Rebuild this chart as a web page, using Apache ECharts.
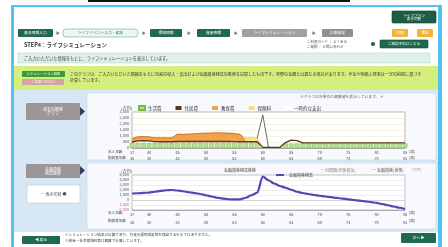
<!DOCTYPE html>
<html><head><meta charset="utf-8">
<script src="https://cdn.jsdelivr.net/npm/echarts@6/dist/echarts.min.js"></script>
<style>html,body{margin:0;padding:0;background:#fff;overflow:hidden}#c{width:448px;height:247px}</style>
</head><body><div id="c"></div>
<script>
// ---- data ----
const ages = [37,38,39,40,41,42,43,44,45,46,47,48,49,50,51,52,53,54,55,56,57,58,59,60,61,62,63,64,65,66,67,68,69,70,71,72,73,74,75,76,77,78,79,80,81,82,83,84,85];
const spouseAges = [35,36,37,38,39,40,41,42,43,44,45,46,47,48,49,50,51,52,53,54,55,56,57,58,59,60,61,62,63,64,65,66,67,68,69,70,71,72,73,74,75,76,77,78,79,80,81,82,83];
const labelAges = [37,40,45,50,55,60,65,70,75,80,85];
const yTicksTop = [0,500,1000,1500,2000,2500,3000];
const yTicksBottom = [-2000,-1000,0,1000,2000,3000,4000,5000];
const seriesNamesTop = ['生活費','住居費','教育費','保険料','一時的な支出'];
const livingCost = [420,420,420,420,420,420,420,420,420,420,420,420,420,420,420,420,420,420,420,420,420,420,420,60,60,60,60,380,380,380,380,380,380,380,380,380,380,380,380,380,380,380,380,380,380,380,380,380,380];
const housingCost = [500,600,620,600,530,520,520,520,540,540,540,540,540,540,540,540,540,540,530,520,520,520,520,60,60,60,60,450,650,620,430,430,430,430,430,430,430,430,430,430,430,430,430,430,430,430,430,430,430];
const educationCost = [300,330,330,330,330,330,330,330,620,600,620,650,680,700,720,730,720,700,680,620,0,null,null,null,null,null,null,null,null,null,null,null,null,null,null,null,null,null,null,null,null,null,null,null,null,null,null,null,null];
const insuranceCost = [null,null,null,null,null,null,null,null,null,null,null,null,null,null,null,null,null,null,null,0,330,330,300,0,null,null,null,null,null,null,null,null,null,null,null,null,null,null,null,null,null,null,null,null,null,null,null,null,null];
const oneTimeCost = [null,null,null,null,null,null,null,null,null,null,null,null,null,null,null,null,null,null,null,null,null,null,0,2690,0,null,null,null,null,null,null,null,null,null,null,null,null,null,null,null,null,null,null,null,null,null,null,null,null];
const assetBalance = [1300,1350,1420,1480,1650,1820,1950,2000,1900,1750,1550,1380,1200,950,700,450,280,150,120,130,450,950,1450,4700,3950,3300,2800,2450,2050,1650,1400,1200,1000,850,700,560,420,280,140,0,-130,-280,-420,-580,-800,-1050,-1300,-1550,-1800];

// ---- page chrome helpers ----
const FF = '"Noto Sans CJK JP", "Noto Sans", sans-serif';
function R(x,y,w,h,fill,stroke,z,r){return {type:'rect',silent:true,z:(z==null?-10:z),shape:{x:x,y:y,width:w,height:h,r:r||0},style:{fill:fill,stroke:stroke||null,lineWidth:stroke?0.6:0}};}
function T(x,y,text,size,color,opt){return {type:'text',silent:true,z:-4,x:x,y:y,style:Object.assign({text:text,fontSize:size,fill:color,fontFamily:FF,verticalAlign:'middle',align:'left'},opt||{})};}
function B(x,y,w,h,fill,text,color,size,stroke,r){return [R(x,y,w,h,fill,stroke,-6,r||1),T(x+w/2,y+h/2,text,size||3.8,color||'#fff',{align:'center'})];}
function tri(x,y,h,c){return {type:'polygon',silent:true,z:-6,shape:{points:[[x,y],[x+5,y+h/2],[x,y+h]]},style:{fill:c}};}

const g = [].concat(
  [R(0,0,448,247,'#ffffff',null,-12)],
  [R(88,0,262,2,'#111111',null,-11)],
  [R(11,5,431,2,'#52c3ee',null,-11), R(11,5,3,242,'#52c3ee',null,-11), R(438,5,4,242,'#52c3ee',null,-11)],
  B(392,11,44,12,'#1d5d45','ライフプラン\n表示切替','#fff',3.6,'#0d3d2a'),
  B(18,29,35,8,'#1f6a4c','基本情報入力'),
  [T(56,33,'▶',4,'#777')],
  B(63,29,75,8,'#eef6f4','ライフイベント入力・編集','#3a7a6a',3.8,'#5ab0a0',3),
  [T(142,33,'▶',4,'#777')],
  B(150,29,32,8,'#1f6a4c','保険情報'),
  [T(187,33,'▶',4,'#777')],
  B(197,29,33,8,'#1f6a4c','資産情報'),
  [T(234,33,'▶',4,'#777')],
  B(242,29,65,8,'#a0a0a0','ライフシミュレーション'),
  [T(312,33,'▶',4,'#777')],
  B(322,29,31,8,'#909090','診断結果'),
  B(392,29,16,8,'#f0b43c','印刷'),
  B(417,29,16,8,'#f0b43c','保存'),
  [T(24,44.5,'STEP4：ライフシミュレーション',5.5,'#333',{fontWeight:'bold'}),
   T(307,42,'ご利用ガイド ｜ よくある',3.5,'#555'), T(307,46.5,'ご質問 ｜ お問い合わせ',3.5,'#555'),
   {type:'circle',silent:true,z:-6,shape:{cx:373,cy:44,r:2},style:{fill:'#1d5d45'}}],
  B(380,40,48,8,'#1f6a4c','ご相談予約はこちら','#fff',3.6,'#0f4a30'),
  [R(18,53,412,10,'#dff0e8','#b9dccb',-8),
   T(24,58,'ご入力いただいた情報をもとに、ライフシミュレーションを表示しています。',4.2,'#444'),
   R(14,66,424,24,'#d5ef7c',null,-9)],
  B(22,71,43,6,'#3a9a3a','シミュレーション結果','#fff',3.4),
  B(22,79,42,6,'#d4a3a3','ご注意ください','#fff',3.4),
  [T(70,74,'このグラフは、ご入力いただいた情報をもとに将来の収入・支出および金融資産残高の推移を試算したものです。実際の金額とは異なる場合があります。年金や物価上昇率は一定の前提に基づき',4.05,'#333'),
   T(70,80,'計算しています。',4.05,'#333'),
   R(14,90,424,142,'#d8e7f6',null,-9),
   R(87,93,349,67,'#f7f9fc','#c9d6e3',-8),
   R(87,163,349,66,'#f7f9fc','#c9d6e3',-8)],
  B(26,103,54,17,'#9c9696','収支の推移\nグラフ','#fff',4),
  [tri(80,107,9,'#3a3a5a')],
  B(26,164,54,14,'#9c9696','金融資産\n残高推移','#fff',4),
  [tri(80,166,9,'#3a3a5a')],
  B(27,185,53,18,'#ffffff','ー 表示切替 ●','#555',4,'#c0c8d0'),
  [T(300,97,'※グラフは年単位の概算値を表示しています。 ✕',3.8,'#666'),
   T(108,152,'本人年齢',3.6,'#444'), T(108,157.5,'配偶者年齢',3.6,'#444'),
   T(409,152,'(歳)',3.6,'#444'), T(409,157.5,'(歳)',3.6,'#444'),
   T(108,213,'本人年齢',3.6,'#444'), T(108,221,'配偶者年齢',3.6,'#444'),
   T(409,213,'(歳)',3.6,'#444'), T(409,221,'(歳)',3.6,'#444'),
   T(224,170,'金融資産残高推移',4,'#444'),
   T(320,170,'ー 目標額(老後資金)',4,'#888'),
   T(372,170,'ー 金融資産(世帯)',4,'#555'),
   T(412,170,'(万円)',3.6,'#999')],
  B(22,236,38,8,'#1f6a4c','◀ 戻る'),
  [T(65,235,'※シミュレーション結果は試算であり、将来の運用成果等を保証するものではありません。',3.6,'#444'),
   T(65,240.5,'※税金・社会保険料等は概算で計算しています。',3.6,'#444')],
  B(401,233,35,10,'#1f6a4c','次へ ▶')
);

function ageLabel(v,i){ return labelAges.indexOf(ages[i])>=0 ? (ages[i]+'\n'+spouseAges[i]) : ''; }
function showIdx(i){ return labelAges.indexOf(ages[i])>=0; }
function fmt(v){ return v.toLocaleString('en-US'); }

const chart = echarts.init(document.getElementById('c'), null, {renderer:'canvas'});
chart.setOption({
  animation:false,
  textStyle:{fontFamily:FF},
  graphic:g,
  grid:[
    {left:132, top:112, width:273, height:36, show:true, backgroundColor:'#ffffff', borderColor:'#8a8a8a', borderWidth:0.6},
    {left:132, top:175, width:273, height:35, show:true, backgroundColor:'#ffffff', borderColor:'#9a9a9a', borderWidth:0.6}
  ],
  legend:[{
    data:seriesNamesTop, left:133, top:100, itemWidth:6, itemHeight:4, itemGap:14, icon:'rect',
    textStyle:{fontSize:4.5, color:'#333', padding:[0,0,0,-2]}
  },{
    data:['金融資産残高'], left:270, top:168, itemWidth:8, itemHeight:2, itemGap:6,
    textStyle:{fontSize:4, color:'#444'}
  }],
  xAxis:[
    {type:'category', gridIndex:0, data:ages, boundaryGap:false,
     axisLine:{onZero:false, lineStyle:{color:'#888', width:0.6}}, axisTick:{show:false},
     axisLabel:{interval:function(i){return showIdx(i);}, formatter:ageLabel, fontSize:3.8, lineHeight:5.5, color:'#444', margin:2}},
    {type:'category', gridIndex:1, data:ages, boundaryGap:false,
     axisLine:{onZero:false, lineStyle:{color:'#888', width:0.6}}, axisTick:{show:false},
     axisLabel:{interval:function(i){return showIdx(i);}, formatter:ageLabel, fontSize:3.8, lineHeight:8, color:'#444', margin:1}}
  ],
  yAxis:[
    {type:'value', gridIndex:0, min:yTicksTop[0], max:yTicksTop[yTicksTop.length-1], interval:500,
     name:'(万円)', nameGap:2, nameTextStyle:{fontSize:4, color:'#444', align:'right'},
     axisLine:{show:false}, axisTick:{show:false},
     axisLabel:{fontSize:3.8, color:'#555', margin:3, formatter:fmt},
     splitLine:{lineStyle:{color:'#e6e2c4', width:0.5}}},
    {type:'value', gridIndex:1, min:yTicksBottom[0], max:yTicksBottom[yTicksBottom.length-1], interval:1000,
     name:'(万円)', nameGap:2, nameTextStyle:{fontSize:4, color:'#444', align:'right'},
     axisLine:{show:false}, axisTick:{show:false},
     axisLabel:{fontSize:3.8, margin:3, formatter:fmt, color:function(v){return v<0?'#d06a7a':'#555';}},
     splitLine:{lineStyle:{color:['#dcdcdc','#dcdcdc','#a8a8a8','#dcdcdc','#dcdcdc','#dcdcdc','#dcdcdc','#dcdcdc'], width:0.5}}}
  ],
  series:[
    {name:'生活費', type:'bar', xAxisIndex:0, yAxisIndex:0, data:livingCost, barCategoryGap:'18%',
     itemStyle:{color:'#b8df8e', borderColor:'#72b84a', borderWidth:0.5}},
    {name:'住居費', type:'line', stack:'exp', xAxisIndex:0, yAxisIndex:0, data:housingCost, symbol:'none', step:false,
     itemStyle:{color:'#5b3517'}, lineStyle:{color:'#5b3517', width:1.3}},
    {name:'教育費', type:'line', stack:'exp', xAxisIndex:0, yAxisIndex:0, data:educationCost, symbol:'none',
     itemStyle:{color:'#f2a24a'}, lineStyle:{color:'#c9571a', width:0.8}, areaStyle:{color:'#f2a24a', opacity:1}},
    {name:'保険料', type:'line', stack:'exp', xAxisIndex:0, yAxisIndex:0, data:insuranceCost, symbol:'none',
     itemStyle:{color:'#f3e27a'}, lineStyle:{color:'#c9b03a', width:0.6}, areaStyle:{color:'#f5e88a', opacity:1}},
    {name:'一時的な支出', type:'line', stack:'exp', xAxisIndex:0, yAxisIndex:0, data:oneTimeCost, symbol:'none',
     itemStyle:{color:'#ffffff', borderColor:'#444'}, lineStyle:{color:'#444', width:0.8}, areaStyle:{color:'#ffffff', opacity:1}},
    {name:'金融資産残高', type:'line', xAxisIndex:1, yAxisIndex:1, data:assetBalance, symbol:'none',
     smooth:0.3, smoothMonotone:'x', itemStyle:{color:'#5547b5'}, lineStyle:{color:'#5547b5', width:2.2}}
  ]
});
</script></body></html>
